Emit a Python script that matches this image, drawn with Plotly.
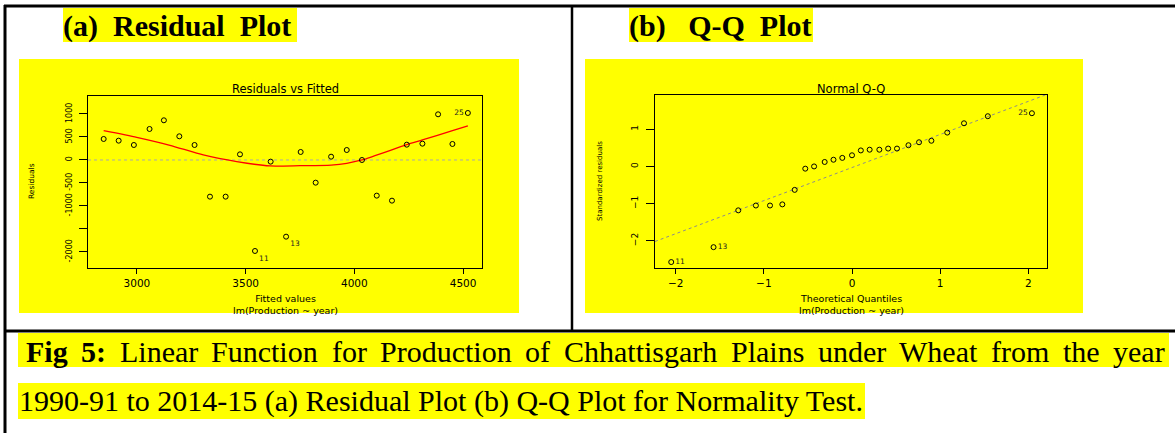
import statistics
import plotly.graph_objects as go

W, H = 1175, 433

# ---------------- data: (a) Residuals vs Fitted ----------------
fitted_values = [2847, 2916, 2986, 3058, 3124, 3195, 3265, 3336, 3408, 3474, 3543, 3615, 3686,
                 3753, 3822, 3893, 3965, 4035, 4103, 4173, 4241, 4313, 4385, 4451, 4522]
residuals = [457, 420, 326, 674, 863, 515, 326, -797, -797, 123, -1978, -36, -1667,
             174, -493, 72, 217, 0, -775, -884, 333, 355, 993, 348, 1022]
resid_point_labels = ["", "", "", "", "", "", "", "", "", "", "11", "", "13",
                      "", "", "", "", "", "", "", "", "", "", "", "25"]
lowess_fitted = [2847, 2999, 3152, 3305, 3459, 3612, 3750, 3893, 3965, 4035, 4241, 4313, 4451, 4522]
lowess_resid = [637, 493, 319, 109, -36, -130, -123, -110, -73, 0, 333, 435, 637, 739]
res_xticks = [3000, 3500, 4000, 4500]
res_yticks = [1000, 500, 0, -500, -1000, -1500, -2000]
res_yticklabels = ["1000", "500", "0", "-500", "-1000", "", "-2000"]

# ---------------- data: (b) Normal Q-Q ----------------
theoretical_q = [-2.05, -1.57, -1.29, -1.09, -0.93, -0.79, -0.65, -0.53, -0.43, -0.31, -0.21, -0.11, 0.0,
                 0.10, 0.20, 0.31, 0.41, 0.51, 0.64, 0.76, 0.90, 1.08, 1.27, 1.54, 2.04]
std_residuals = [-2.57, -2.17, -1.18, -1.05, -1.05, -1.02, -0.63, -0.06, 0.0, 0.12, 0.18, 0.23, 0.30,
                 0.43, 0.45, 0.45, 0.48, 0.48, 0.57, 0.65, 0.69, 0.91, 1.16, 1.35, 1.43]
qq_point_labels = ["11", "13", "", "", "", "", "", "", "", "", "", "", "",
                   "", "", "", "", "", "", "", "", "", "", "", "25"]
qq_xticks = [-2, -1, 0, 1, 2]
qq_yticks = [1, 0, -1, -2]

# text
title_a = "(a)\u00a0\u00a0Residual\u00a0\u00a0Plot"
title_b = "(b)\u00a0\u00a0\u00a0Q-Q\u00a0\u00a0Plot"
caption_line1_words = ["<b>Fig</b>", "<b>5:</b>", "Linear", "Function", "for", "Production", "of",
                       "Chhattisgarh", "Plains", "under", "Wheat", "from", "the", "year"]
caption_line2 = "1990-91 to 2014-15 (a) Residual Plot (b) Q-Q Plot for Normality Test."

# ---------------- layout helpers (pixel -> paper) ----------------
def fx(p):
    return p / W

def fy(p):
    return 1 - p / H

# axis ranges (pixel-calibrated)
res_xrange = [2775, 4587]
res_yrange = [-2348, 1391]
qq_xrange = [-2.234, 2.211]
qq_yrange = [-2.73, 1.92]

# Q-Q line through the quartiles (as R's qqline)
def quant(vals, p):
    s = sorted(vals)
    h = (len(s) - 1) * p
    lo = int(h)
    hi = min(lo + 1, len(s) - 1)
    return s[lo] + (h - lo) * (s[hi] - s[lo])

zq = statistics.NormalDist().inv_cdf(0.75)
q1, q3 = quant(std_residuals, 0.25), quant(std_residuals, 0.75)
qq_slope = (q3 - q1) / (2 * zq)
qq_int = q1 + zq * qq_slope
qq_line_x = qq_xrange
qq_line_y = [qq_int + qq_slope * v for v in qq_xrange]

YELLOW = "#FFFF00"
SANS = "DejaVu Sans"
SERIF = "Liberation Serif"

fig = go.Figure()

# lowess line
fig.add_trace(go.Scatter(x=lowess_fitted, y=lowess_resid, mode="lines",
                         line=dict(color="#FF0000", width=1.3, shape="spline", smoothing=0.6),
                         xaxis="x", yaxis="y", hoverinfo="skip"))
# residual points
fig.add_trace(go.Scatter(x=fitted_values, y=residuals, mode="markers+text",
                         text=resid_point_labels,
                         textposition=["middle left" if t == "25" else "bottom right" for t in resid_point_labels],
                         textfont=dict(family=SANS, size=7.5, color="#222"),
                         marker=dict(symbol="circle-open", size=5, color="black", line=dict(width=1)),
                         xaxis="x", yaxis="y", cliponaxis=False))

# qq line
fig.add_trace(go.Scatter(x=qq_line_x, y=qq_line_y, mode="lines",
                         line=dict(color="#8c8c8c", width=1, dash="dot"),
                         xaxis="x2", yaxis="y2", hoverinfo="skip"))
# qq points
fig.add_trace(go.Scatter(x=theoretical_q, y=std_residuals, mode="markers+text",
                         text=qq_point_labels,
                         textposition=["middle left" if t == "25" else "middle right" for t in qq_point_labels],
                         textfont=dict(family=SANS, size=7.5, color="#222"),
                         marker=dict(symbol="circle-open", size=5, color="black", line=dict(width=1)),
                         xaxis="x2", yaxis="y2", cliponaxis=False))

axis_common = dict(showline=True, mirror=True, linecolor="black", linewidth=1,
                   ticks="outside", tickcolor="black", showgrid=False, zeroline=False,
                   tickfont=dict(family=SANS, size=10.5, color="black"), fixedrange=True)
axis_no_font = {k: v for k, v in axis_common.items() if k != "tickfont"}

fig.update_layout(
    width=W, height=H, autosize=False,
    margin=dict(l=0, r=0, t=0, b=0, pad=0),
    paper_bgcolor="white", plot_bgcolor=YELLOW,
    showlegend=False,
    xaxis=dict(domain=[fx(88), fx(482)], range=res_xrange, anchor="y",
               tickvals=res_xticks, ticklen=5, **axis_common),
    yaxis=dict(domain=[fy(268), fy(96)], range=res_yrange, anchor="x",
               tickvals=res_yticks, ticktext=res_yticklabels, tickangle=-90, ticklen=8,
               ticklabelstandoff=4, tickfont=dict(family=SANS, size=8, color="black"),
               **axis_no_font),
    xaxis2=dict(domain=[fx(655), fx(1047)], range=qq_xrange, anchor="y2",
                tickvals=qq_xticks, ticklen=5, **axis_common),
    yaxis2=dict(domain=[fy(268), fy(95)], range=qq_yrange, anchor="x2",
                tickvals=qq_yticks, tickangle=-90, ticklen=8, ticklabelstandoff=4,
                tickfont=dict(family=SANS, size=9, color="black"), **axis_no_font),
)

shapes = []

def rect(x0, y0, x1, y1, color):
    shapes.append(dict(type="rect", xref="paper", yref="paper", x0=fx(x0), x1=fx(x1),
                       y0=fy(y1), y1=fy(y0), fillcolor=color, line=dict(width=0), layer="below"))

def seg(x0, y0, x1, y1, w, color="black"):
    shapes.append(dict(type="line", xref="paper", yref="paper", x0=fx(x0), x1=fx(x1),
                       y0=fy(y0), y1=fy(y1), line=dict(color=color, width=w), layer="above"))

# yellow panels and highlights
rect(19, 59, 519, 313, YELLOW)
rect(585, 59, 1083, 313, YELLOW)
rect(63, 8, 297, 42, YELLOW)
rect(629, 8, 813, 42, YELLOW)
rect(18, 333, 1169, 367, YELLOW)
rect(18, 383, 865, 419, YELLOW)

# table borders
seg(4, 6, 1175, 6, 3)
seg(5, 5, 5, 433, 3)
seg(572, 6, 572, 331, 2.5)
seg(4, 331, 1175, 331, 3)

# zero reference line in residual plot
shapes.append(dict(type="line", xref="x domain", yref="y", x0=0, x1=1, y0=0, y1=0,
                   line=dict(color="#a8a8a8", width=1, dash="dot"), layer="below"))

fig.update_layout(shapes=shapes)

ann = []

def text(x, y, s, size, family=SANS, xanchor="center", yanchor="middle", angle=0, color="black"):
    ann.append(dict(x=fx(x), y=fy(y), xref="paper", yref="paper", text=s, showarrow=False,
                    font=dict(family=family, size=size, color=color), xanchor=xanchor,
                    yanchor=yanchor, textangle=angle, borderpad=0, borderwidth=0))

# panel titles
text(63, 26, "<b>" + title_a + "</b>", 30, family=SERIF, xanchor="left")
text(629, 26, "<b>" + title_b + "</b>", 30, family=SERIF, xanchor="left")

# R plot texts
text(285, 89, "Residuals vs Fitted", 11.5)
text(285, 304, "Fitted values<br>lm(Production ~ year)", 9.5)
text(31, 181, "Residuals", 7.5, angle=-90)

text(851, 89, "Normal Q-Q", 11.5)
text(851, 304, "Theoretical Quantiles<br>lm(Production ~ year)", 9.5)
text(600, 181, "Standardized residuals", 7, angle=-90)

# caption (justified first line)
word_x = [26, 81, 120, 211, 332, 380, 525, 564, 731, 818, 899, 991, 1063, 1113]
for wx, w in zip(word_x, caption_line1_words):
    text(wx, 351, w, 30, family=SERIF, xanchor="left")
text(19, 401, caption_line2, 30, family=SERIF, xanchor="left")

fig.update_layout(annotations=ann)

fig.write_html("out.html", config={"displayModeBar": False},
               post_script="document.body.style.margin='0';document.body.style.padding='0';")
